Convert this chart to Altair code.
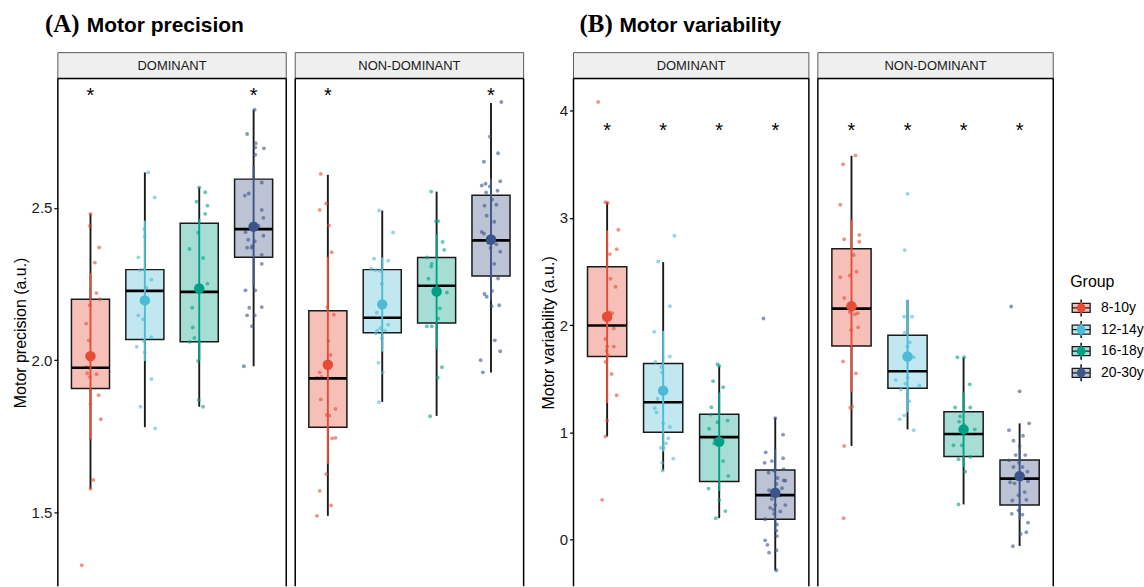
import altair as alt
import pandas as pd

GROUPS = ["8-10y", "12-14y", "16-18y", "20-30y"]
COLORS = ["#E64B35", "#4DBBD5", "#00A087", "#3C5488"]

# ---------------- Panel A : Motor precision ----------------
A_TICKS = [1.5, 2.0, 2.5]
A_DOMAIN = [1.258, 2.924]
A_STAR_Y = 2.883
A_STARS_DOM = ["*", "", "", "*"]
A_STARS_ND = ["*", "", "", "*"]

A_DOM_Q1 = [1.907, 2.068, 2.060, 2.338]
A_DOM_MED = [1.975, 2.227, 2.224, 2.430]
A_DOM_Q3 = [2.200, 2.297, 2.449, 2.594]
A_DOM_LO = [1.578, 1.780, 1.847, 1.980]
A_DOM_HI = [2.480, 2.616, 2.567, 2.822]
A_DOM_MEAN = [2.013, 2.196, 2.235, 2.438]
A_DOM_SD_LO = [1.740, 1.997, 2.000, 2.240]
A_DOM_SD_HI = [2.286, 2.458, 2.464, 2.638]

A_ND_Q1 = [1.780, 2.090, 2.122, 2.276]
A_ND_MED = [1.940, 2.139, 2.244, 2.393]
A_ND_Q3 = [2.162, 2.297, 2.337, 2.541]
A_ND_LO = [1.489, 1.863, 1.817, 1.959]
A_ND_HI = [2.608, 2.491, 2.553, 2.844]
A_ND_MEAN = [1.985, 2.183, 2.225, 2.396]
A_ND_SD_LO = [1.660, 2.028, 2.037, 2.196]
A_ND_SD_HI = [2.339, 2.337, 2.413, 2.596]

# jittered observations: (horizontal jitter, value)
A_DOM_PTS_8_10 = [(0.00, 2.48), (-0.01, 2.44), (0.16, 2.37), (0.08, 2.32), (0.11, 2.22), (0.17, 2.20),
                  (-0.01, 2.18), (-0.08, 2.12), (-0.03, 2.065), (-0.03, 2.02), (-0.08, 1.977), (-0.02, 1.975),
                  (-0.06, 1.957), (0.11, 1.954), (-0.01, 1.945), (0.15, 1.885), (0.00, 1.856), (0.19, 1.806),
                  (0.05, 1.607), (0.00, 1.578), (-0.16, 1.327)]
A_DOM_PTS_12_14 = [(0.06, 2.616), (0.18, 2.534), (-0.01, 2.43), (0.00, 2.406), (-0.12, 2.337), (-0.01, 2.297),
                   (-0.09, 2.296), (0.12, 2.264), (0.03, 2.238), (-0.12, 2.147), (-0.03, 2.134), (0.12, 2.075),
                   (-0.02, 2.063), (-0.15, 2.044), (0.00, 2.026), (0.12, 1.938), (-0.08, 1.847), (0.19, 1.776)]
A_DOM_PTS_16_18 = [(0.00, 2.567), (0.11, 2.551), (-0.05, 2.52), (0.15, 2.507), (0.11, 2.48), (-0.02, 2.418),
                   (-0.18, 2.365), (0.07, 2.335), (0.15, 2.251), (-0.13, 2.172), (-0.12, 2.107), (-0.09, 2.073),
                   (-0.18, 2.06), (0.00, 2.061), (-0.02, 1.997), (-0.01, 1.869), (0.07, 1.847)]
A_DOM_PTS_20_30 = [(0.02, 2.822), (-0.12, 2.742), (0.04, 2.712), (0.03, 2.698), (0.19, 2.695), (0.03, 2.674),
                   (0.15, 2.583), (-0.09, 2.547), (-0.16, 2.54), (0.15, 2.493), (0.18, 2.467), (-0.15, 2.42),
                   (0.09, 2.44), (0.18, 2.408), (-0.10, 2.395), (0.02, 2.39), (-0.12, 2.369), (-0.04, 2.369),
                   (-0.02, 2.375), (0.15, 2.345), (0.15, 2.316), (-0.15, 2.229), (0.03, 2.229), (-0.08, 2.172),
                   (0.15, 2.174), (-0.12, 2.147), (0.02, 2.147), (-0.03, 2.111), (-0.18, 1.98)]

A_ND_PTS_8_10 = [(-0.13, 2.611), (-0.03, 2.514), (-0.15, 2.493), (0.02, 2.442), (0.07, 2.354), (-0.01, 2.174),
                 (0.11, 2.149), (0.01, 2.063), (0.05, 2.017), (-0.15, 1.96), (-0.20, 1.942), (-0.12, 1.945),
                 (-0.13, 1.871), (-0.02, 1.82), (0.03, 1.818), (0.14, 1.84), (0.08, 1.743), (0.14, 1.745),
                 (-0.03, 1.626), (-0.15, 1.571), (0.06, 1.523), (-0.20, 1.489)]
A_ND_PTS_12_14 = [(-0.06, 2.491), (0.20, 2.419), (-0.15, 2.333), (0.11, 2.326), (-0.20, 2.30), (-0.12, 2.295),
                  (-0.04, 2.293), (-0.01, 2.251), (-0.10, 2.156), (0.11, 2.116), (-0.03, 2.105), (-0.09, 2.097),
                  (0.05, 2.097), (-0.12, 2.088), (-0.01, 2.071), (-0.07, 1.991), (0.01, 1.96), (-0.06, 1.862)]
A_ND_PTS_16_18 = [(-0.10, 2.553), (-0.01, 2.456), (0.03, 2.456), (0.11, 2.388), (0.14, 2.362), (-0.18, 2.337),
                  (-0.09, 2.316), (-0.10, 2.307), (-0.15, 2.267), (0.19, 2.222), (0.06, 2.17), (0.03, 2.136),
                  (-0.18, 2.111), (-0.09, 2.111), (0.10, 1.977), (0.02, 1.943), (-0.12, 1.816)]
A_ND_PTS_20_30 = [(0.19, 2.847), (-0.02, 2.733), (0.13, 2.679), (-0.13, 2.651), (-0.17, 2.573), (-0.10, 2.579),
                  (0.17, 2.587), (-0.02, 2.57), (0.12, 2.556), (-0.09, 2.55), (0.02, 2.527), (-0.12, 2.507),
                  (0.10, 2.51), (-0.08, 2.474), (0.06, 2.454), (-0.17, 2.421), (-0.13, 2.415), (-0.05, 2.385),
                  (0.10, 2.38), (0.17, 2.356), (-0.01, 2.368), (0.06, 2.316), (0.13, 2.268), (0.02, 2.227),
                  (-0.12, 2.217), (-0.08, 2.208), (0.01, 2.177), (0.15, 2.18), (0.07, 2.065), (0.17, 2.029),
                  (-0.19, 2.0), (-0.15, 1.96)]

# ---------------- Panel B : Motor variability ----------------
B_TICKS = [0, 1, 2, 3, 4]
B_DOMAIN = [-0.435, 4.30]
B_STAR_Y = 3.86
B_STARS_DOM = ["*", "*", "*", "*"]
B_STARS_ND = ["*", "*", "*", "*"]

B_DOM_Q1 = [1.708, 1.002, 0.542, 0.190]
B_DOM_MED = [1.997, 1.281, 0.956, 0.414]
B_DOM_Q3 = [2.545, 1.642, 1.169, 0.650]
B_DOM_LO = [0.962, 0.644, 0.200, -0.286]
B_DOM_HI = [3.146, 2.588, 1.619, 1.136]
B_DOM_MEAN = [2.079, 1.389, 0.913, 0.437]
B_DOM_SD_LO = [1.274, 0.821, 0.453, 0.076]
B_DOM_SD_HI = [2.883, 1.947, 1.373, 0.847]

B_ND_Q1 = [1.806, 1.412, 0.775, 0.322]
B_ND_MED = [2.154, 1.570, 0.985, 0.568]
B_ND_Q3 = [2.713, 1.905, 1.192, 0.742]
B_ND_LO = [0.874, 1.028, 0.328, -0.059]
B_ND_HI = [3.580, 2.236, 1.701, 1.084]
B_ND_MEAN = [2.177, 1.708, 1.028, 0.591]
B_ND_SD_LO = [1.373, 1.186, 0.677, 0.190]
B_ND_SD_HI = [2.982, 2.236, 1.373, 0.847]

B_DOM_PTS_8_10 = [(-0.16, 4.082), (-0.03, 3.146), (0.01, 3.14), (0.20, 2.89), (0.17, 2.709), (0.05, 2.663),
                  (0.06, 2.434), (0.15, 2.358), (0.09, 2.112), (0.04, 2.12), (-0.06, 2.089), (0.12, 1.97),
                  (-0.03, 1.872), (0.00, 1.80), (0.12, 1.80), (-0.01, 1.76), (0.02, 1.72), (-0.03, 1.658),
                  (0.08, 1.544), (0.17, 1.346), (0.00, 1.11), (-0.03, 0.962), (-0.09, 0.371)]
B_DOM_PTS_12_14 = [(-0.09, 2.594), (0.20, 2.834), (0.12, 2.177), (-0.16, 1.938), (0.12, 1.708), (-0.14, 1.658),
                   (-0.03, 1.609), (-0.02, 1.56), (-0.10, 1.314), (-0.15, 1.225), (-0.12, 1.186), (0.00, 1.084),
                   (0.12, 1.051), (0.05, 0.897), (0.09, 0.946), (-0.04, 0.857), (0.01, 0.854), (-0.02, 0.716),
                   (0.18, 0.755), (-0.01, 0.644)]
B_DOM_PTS_16_18 = [(-0.03, 1.635), (0.00, 1.62), (-0.11, 1.478), (0.07, 1.422), (-0.14, 1.235), (-0.15, 1.166),
                   (-0.18, 1.034), (-0.03, 1.094), (0.15, 1.11), (-0.08, 0.929), (-0.09, 0.897), (0.07, 0.732),
                   (0.16, 0.594), (-0.19, 0.476), (0.00, 0.371), (-0.06, 0.2), (0.11, 0.266)]
B_DOM_PTS_20_30 = [(-0.21, 2.062), (0.00, 1.133), (0.14, 0.979), (-0.17, 0.814), (-0.06, 0.732), (-0.19, 0.716),
                   (0.14, 0.759), (-0.03, 0.644), (0.15, 0.657), (-0.12, 0.624), (0.04, 0.575), (0.15, 0.552),
                   (0.18, 0.55), (0.02, 0.519), (0.12, 0.479), (-0.11, 0.46), (-0.09, 0.42), (0.09, 0.414),
                   (-0.06, 0.378), (0.00, 0.322), (0.18, 0.322), (-0.09, 0.296), (-0.03, 0.28), (0.09, 0.263),
                   (-0.02, 0.24), (-0.18, 0.19), (0.03, 0.141), (0.02, 0.082), (0.03, 0.033), (-0.18, -0.007),
                   (-0.14, -0.049), (0.02, -0.099), (-0.11, -0.122), (0.02, -0.286)]

B_ND_PTS_8_10 = [(0.07, 3.583), (-0.15, 3.501), (-0.20, 3.123), (-0.13, 2.801), (0.14, 2.841), (0.14, 2.778),
                 (0.04, 2.654), (0.09, 2.499), (-0.03, 2.463), (-0.20, 2.447), (-0.13, 2.253), (-0.03, 2.122),
                 (0.11, 2.112), (0.06, 2.10), (0.12, 1.98), (-0.01, 1.954), (-0.15, 1.662), (0.08, 1.55),
                 (0.01, 1.241), (-0.02, 1.23), (-0.13, 0.874), (-0.14, 0.2)]
B_ND_PTS_12_14 = [(0.00, 3.225), (-0.05, 2.70), (-0.06, 2.079), (0.08, 2.079), (-0.05, 1.931), (0.04, 1.839),
                  (0.00, 1.80), (0.11, 1.701), (-0.21, 1.488), (0.00, 1.511), (-0.04, 1.455), (-0.12, 1.399),
                  (0.21, 1.438), (0.00, 1.363), (0.03, 1.291), (-0.06, 1.159), (-0.14, 1.123), (0.11, 1.021)]
B_ND_PTS_16_18 = [(-0.11, 1.701), (0.01, 1.701), (0.11, 1.448), (-0.15, 1.232), (0.12, 1.232), (-0.06, 1.149),
                  (-0.08, 1.10), (0.01, 1.067), (0.20, 1.028), (-0.18, 0.88), (-0.03, 0.88), (0.12, 0.772),
                  (-0.09, 0.749), (0.03, 0.634), (-0.09, 0.328)]
B_ND_PTS_20_30 = [(-0.15, 2.174), (0.00, 1.383), (0.17, 1.084), (-0.19, 1.021), (0.06, 0.969), (-0.11, 0.923),
                  (0.00, 0.874), (-0.07, 0.788), (0.10, 0.788), (-0.19, 0.739), (-0.01, 0.716), (-0.11, 0.677),
                  (0.05, 0.677), (0.14, 0.634), (-0.17, 0.535), (-0.09, 0.525), (0.15, 0.545), (0.09, 0.443),
                  (-0.02, 0.414), (-0.13, 0.365), (0.12, 0.371), (-0.02, 0.273), (-0.14, 0.24), (0.05, 0.233),
                  (0.15, 0.158), (0.12, 0.069), (0.02, 0.053), (-0.12, -0.062)]

# ---------------- layout constants ----------------
H = 509
W_A = 229
W_B = 236
SANS = "Liberation Sans"
SERIF = "Liberation Serif"

CS = alt.Scale(domain=GROUPS, range=COLORS)
ONE = pd.DataFrame({"k": [0]})


def panel(q1, med, q3, lo, hi, mean, sdlo, sdhi, pts, stars, star_y, ydom, yticks,
          ytitle, yfmt, show_axis, strip, width, title=None):
    xs = alt.Scale(domain=[0.4, 4.6], nice=False, zero=False)
    ys = alt.Scale(domain=ydom, nice=False, zero=False)
    if show_axis:
        yax = alt.Axis(values=yticks, title=ytitle, format=yfmt, tickColor="black", tickSize=4,
                       tickWidth=1.2, labelFontSize=15, labelColor="#1a1a1a", labelPadding=2,
                       titleFontSize=16, titleFontWeight="normal", titleColor="black",
                       titlePadding=3, domain=False, grid=False)
    else:
        yax = None

    def X(f):
        return alt.X(f, type="quantitative", scale=xs, axis=None)

    def Y(f):
        return alt.Y(f, type="quantitative", scale=ys, axis=yax)

    box_df = pd.DataFrame({"group": GROUPS, "idx": [1, 2, 3, 4], "q1": q1, "med": med, "q3": q3,
                           "lo": lo, "hi": hi, "mean": mean, "sdlo": sdlo, "sdhi": sdhi,
                           "star": stars, "sy": [star_y] * 4})
    rows = []
    for i, (g, lst) in enumerate(zip(GROUPS, pts)):
        for j, v in lst:
            rows.append({"group": g, "idx": i + 1, "jit": j, "val": v})
    pts_df = pd.DataFrame(rows)

    color = alt.Color("group:N", scale=CS, legend=None)
    base = alt.Chart(box_df).transform_calculate(xl="datum.idx - 0.35", xr="datum.idx + 0.35")

    layers = [
        alt.Chart(ONE).mark_rect(fill="#EFEFEF", stroke="#5a5a5a", strokeWidth=1).encode(
            x=alt.value(0), x2=alt.value(width), y=alt.value(-26), y2=alt.value(0)),
        alt.Chart(ONE).mark_text(fontSize=13, color="#1a1a1a", baseline="middle", align="center",
                                 font=SANS).encode(
            x=alt.value(width / 2), y=alt.value(-13), text=alt.value(strip)),
        base.mark_rect(fillOpacity=0.35, stroke="#1a1a1a", strokeWidth=1.5).encode(
            x=X("xl"), x2="xr:Q", y=Y("q1"), y2="q3:Q",
            fill=alt.Fill("group:N", scale=CS, legend=None)),
        base.mark_rule(color="#1a1a1a", strokeWidth=1.9).encode(x=X("idx"), y=Y("lo"), y2="q1:Q"),
        base.mark_rule(color="#1a1a1a", strokeWidth=1.9).encode(x=X("idx"), y=Y("q3"), y2="hi:Q"),
        alt.Chart(pts_df).transform_calculate(xj="datum.idx + datum.jit").mark_circle(
            size=15, opacity=0.6).encode(x=X("xj"), y=Y("val"), color=color),
        base.mark_rule(color="black", strokeWidth=2.7).encode(x=X("xl"), x2="xr:Q", y=Y("med")),
        base.mark_rule(strokeWidth=1.9).encode(x=X("idx"), y=Y("sdlo"), y2="sdhi:Q", color=color),
        base.mark_circle(size=110, opacity=1).encode(x=X("idx"), y=Y("mean"), color=color),
        base.mark_text(fontSize=20, dy=5, baseline="middle", color="black", font=SANS).encode(
            x=X("idx"), y=Y("sy"), text="star:N"),
        alt.Chart(ONE).mark_rule(color="black", strokeWidth=1.5).encode(
            x=alt.value(0), y=alt.value(0), y2=alt.value(H)),
        alt.Chart(ONE).mark_rule(color="black", strokeWidth=1.5).encode(
            x=alt.value(width), y=alt.value(0), y2=alt.value(H)),
        alt.Chart(ONE).mark_rule(color="black", strokeWidth=1.5).encode(
            x=alt.value(0), x2=alt.value(width), y=alt.value(0)),
    ]
    if title is not None:
        tag, name, tag_x, name_x = title
        layers.append(alt.Chart(ONE).mark_text(font=SERIF, fontSize=25, fontWeight="bold", align="left",
                                               baseline="alphabetic", color="black").encode(
            x=alt.value(tag_x), y=alt.value(-47), text=alt.value(tag)))
        layers.append(alt.Chart(ONE).mark_text(font=SANS, fontSize=21, fontWeight="bold", align="left",
                                               baseline="alphabetic", color="black").encode(
            x=alt.value(name_x), y=alt.value(-47), text=alt.value(name)))
    return alt.layer(*layers).properties(width=width, height=H)


a_dom = panel(A_DOM_Q1, A_DOM_MED, A_DOM_Q3, A_DOM_LO, A_DOM_HI, A_DOM_MEAN, A_DOM_SD_LO, A_DOM_SD_HI,
              [A_DOM_PTS_8_10, A_DOM_PTS_12_14, A_DOM_PTS_16_18, A_DOM_PTS_20_30],
              A_STARS_DOM, A_STAR_Y, A_DOMAIN, A_TICKS, "Motor precision (a.u.)", ".1f", True,
              "DOMINANT", W_A, title=("(A)", "Motor precision", -13, 29))
a_nd = panel(A_ND_Q1, A_ND_MED, A_ND_Q3, A_ND_LO, A_ND_HI, A_ND_MEAN, A_ND_SD_LO, A_ND_SD_HI,
             [A_ND_PTS_8_10, A_ND_PTS_12_14, A_ND_PTS_16_18, A_ND_PTS_20_30],
             A_STARS_ND, A_STAR_Y, A_DOMAIN, A_TICKS, "", ".1f", False, "NON-DOMINANT", W_A)
b_dom = panel(B_DOM_Q1, B_DOM_MED, B_DOM_Q3, B_DOM_LO, B_DOM_HI, B_DOM_MEAN, B_DOM_SD_LO, B_DOM_SD_HI,
              [B_DOM_PTS_8_10, B_DOM_PTS_12_14, B_DOM_PTS_16_18, B_DOM_PTS_20_30],
              B_STARS_DOM, B_STAR_Y, B_DOMAIN, B_TICKS, "Motor variability (a.u.)", "d", True,
              "DOMINANT", W_B, title=("(B)", "Motor variability", 6, 46))
b_nd = panel(B_ND_Q1, B_ND_MED, B_ND_Q3, B_ND_LO, B_ND_HI, B_ND_MEAN, B_ND_SD_LO, B_ND_SD_HI,
             [B_ND_PTS_8_10, B_ND_PTS_12_14, B_ND_PTS_16_18, B_ND_PTS_20_30],
             B_STARS_ND, B_STAR_Y, B_DOMAIN, B_TICKS, "", "d", False, "NON-DOMINANT", W_B)

spacer = alt.Chart(ONE).mark_point(opacity=0).encode(x=alt.value(0), y=alt.value(0)).properties(
    width=32, height=H)

# legend drawn as its own small view
leg_df = pd.DataFrame({"group": GROUPS})
leg_y = alt.Y("group:N", scale=alt.Scale(type="point", domain=GROUPS, range=[230, 295], padding=0),
              axis=None)
legend = alt.layer(
    alt.Chart(ONE).mark_text(font=SANS, fontSize=16, align="left", baseline="middle", color="black").encode(
        x=alt.value(8), y=alt.value(204), text=alt.value("Group")),
    alt.Chart(leg_df).mark_point(shape="M0,-0.85V0.85", size=400, filled=False, strokeWidth=1.6,
                                 color="#1a1a1a", opacity=1).encode(
        x=alt.value(19), y=leg_y),
    alt.Chart(leg_df).mark_point(shape="M-0.9,-0.45H0.9V0.45H-0.9Z M-0.9,0H0.9", size=400, filled=True,
                                 fillOpacity=0.35, stroke="#1a1a1a", strokeWidth=1.3, opacity=1).encode(
        x=alt.value(19), y=leg_y, fill=alt.Fill("group:N", scale=CS, legend=None)),
    alt.Chart(leg_df).mark_point(shape="M0,-0.6V0.6", size=400, filled=False, strokeWidth=1.8,
                                 opacity=1).encode(
        x=alt.value(19), y=leg_y, color=alt.Color("group:N", scale=CS, legend=None)),
    alt.Chart(leg_df).mark_circle(size=80, opacity=1).encode(
        x=alt.value(19), y=leg_y, color=alt.Color("group:N", scale=CS, legend=None)),
    alt.Chart(leg_df).mark_text(font=SANS, fontSize=14, align="left", baseline="middle",
                                color="black").encode(
        x=alt.value(39), y=leg_y, text="group:N"),
).properties(width=79, height=H)

chart = alt.hconcat(a_dom, a_nd, spacer, b_dom, b_nd, legend, spacing=9, bounds="flush").resolve_scale(
    x="independent", y="independent"
).properties(
    padding={"left": 12, "top": 11, "right": 0, "bottom": 0}
).configure(font=SANS).configure_view(strokeWidth=0, stroke=None)

chart.save("out.html", embed_options={"renderer": "svg", "actions": False})
